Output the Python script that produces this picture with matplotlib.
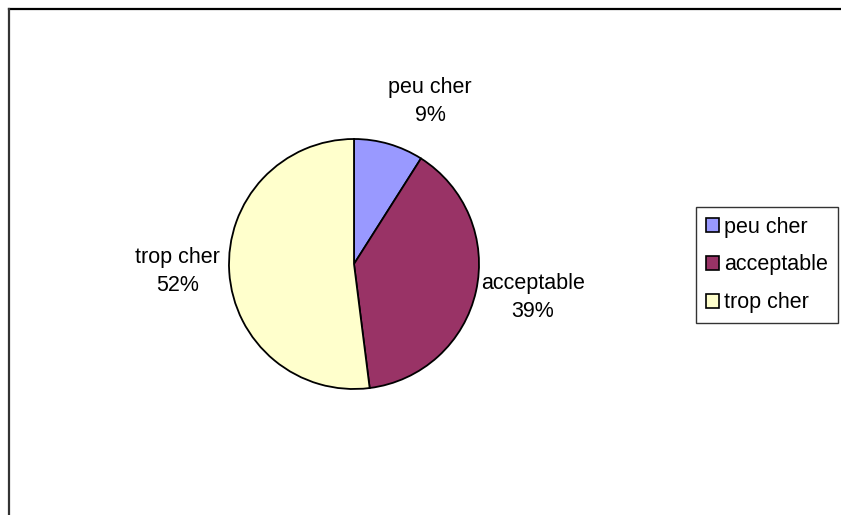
import matplotlib.pyplot as plt
from matplotlib.lines import Line2D
from matplotlib.patches import Patch

# parts of answers about the price
categories = ['peu cher', 'acceptable', 'trop cher']
shares = [9, 39, 52]
colors = ['#9999FF', '#993366', '#FFFFCC']

# label centres in pie-radius units (relative to the pie centre)
label_pos = [(0.61, 1.30), (1.43, -0.27), (-1.41, -0.06)]

W, H = 841, 515
fig = plt.figure(figsize=(W / 100, H / 100), dpi=100)
plt.rcParams['font.family'] = ['Liberation Sans', 'DejaVu Sans']
fs = 15.5

# pie centre and radius in pixels
cx, cy, r = 354, 264, 125
ax = fig.add_axes([(cx - r) / W, (H - cy - r) / H, 2 * r / W, 2 * r / H])
wedges, _ = ax.pie(shares, colors=colors, startangle=90, counterclock=False,
                   wedgeprops=dict(edgecolor='black', linewidth=1.3))
ax.set_xlim(-1, 1)
ax.set_ylim(-1, 1)
ax.set_aspect('equal')
ax.axis('off')

total = sum(shares)
for name, val, (lx, ly) in zip(categories, shares, label_pos):
    pct = '%d%%' % round(100 * val / total)
    ax.text(lx, ly, name + '\n' + pct, ha='center', va='center',
            fontsize=fs, linespacing=1.45, clip_on=False)

handles = [Patch(facecolor=c, edgecolor='black', linewidth=1.2) for c in colors]
leg = fig.legend(handles, categories, loc='upper right',
                 bbox_to_anchor=(838 / W, 1 - 207 / H), frameon=True,
                 fancybox=False, fontsize=fs, handlelength=0.6,
                 handleheight=0.6, handletextpad=0.25, labelspacing=0.78,
                 borderpad=0.45, borderaxespad=0)
leg.get_frame().set_edgecolor('black')
leg.get_frame().set_linewidth(1.0)

# chart frame (only top and left edges visible)
fig.add_artist(Line2D([9 / W, 1], [1 - 9 / H, 1 - 9 / H], color='black', lw=1.6,
                      transform=fig.transFigure))
fig.add_artist(Line2D([9 / W, 9 / W], [1 - 9 / H, 0], color='#333333', lw=1.6,
                      transform=fig.transFigure))

fig.savefig('out.png', dpi=100)
